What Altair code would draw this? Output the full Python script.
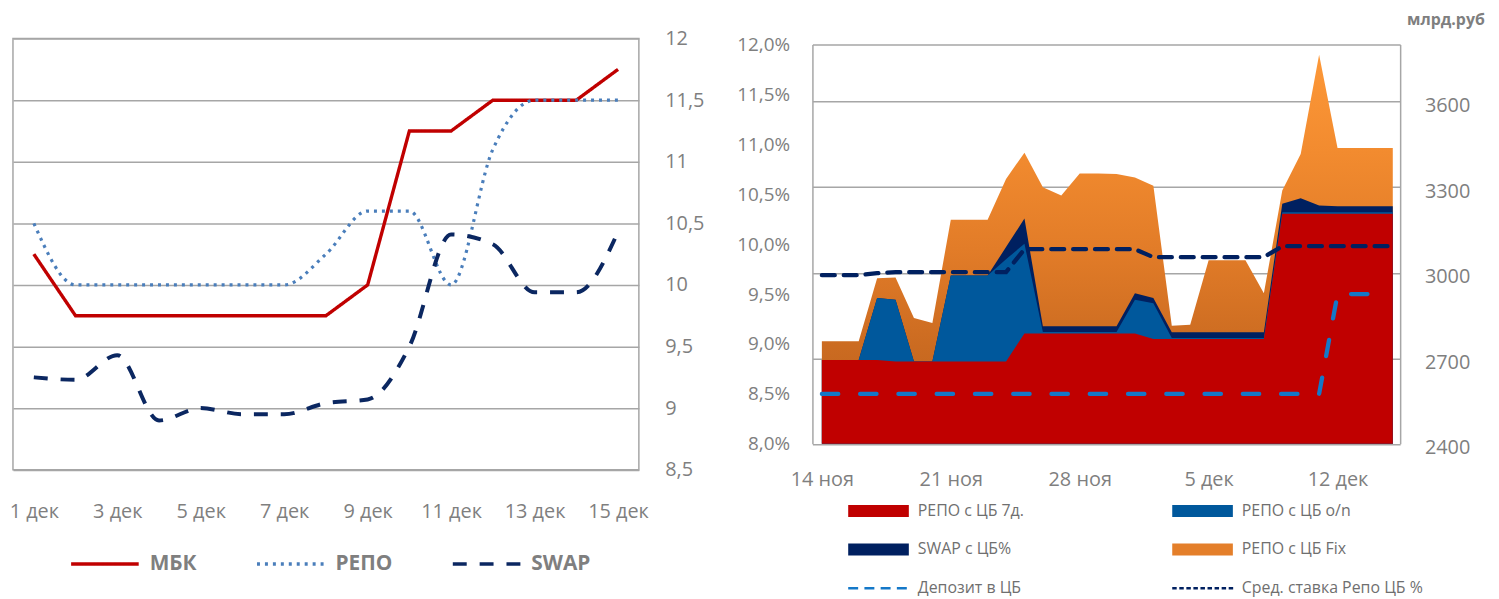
import altair as alt
import pandas as pd

FONT = "Open Sans"
GRID = "#A6A6A6"
TXT = "#7F7F7F"

# ---------------- left panel data ----------------
left_days = ["1 дек", "2 дек", "3 дек", "4 дек", "5 дек", "6 дек", "7 дек", "8 дек",
             "9 дек", "10 дек", "11 дек", "12 дек", "13 дек", "14 дек", "15 дек"]
left_ticks = ["1 дек", "3 дек", "5 дек", "7 дек", "9 дек", "11 дек", "13 дек", "15 дек"]
mbk = [10.25, 9.75, 9.75, 9.75, 9.75, 9.75, 9.75, 9.75, 10.0, 11.25, 11.25, 11.5, 11.5, 11.5, 11.75]
repo = [10.5, 10.0, 10.0, 10.0, 10.0, 10.0, 10.0, 10.25, 10.6, 10.6, 10.0, 11.1, 11.5, 11.5, 11.5]
swap = [9.25, 9.23, 9.43, 8.9, 9.0, 8.95, 8.95, 9.04, 9.07, 9.5, 10.41, 10.33, 9.94, 9.94, 10.43]
left_series = ["МБК", "РЕПО", "SWAP"]
left_colors = ["#C00000", "#4A7EBB", "#0B2761"]
left_dashes = [[1, 0], [3, 5], [14, 13]]
left_yticks = [8.5, 9.0, 9.5, 10.0, 10.5, 11.0, 11.5, 12.0]

# ---------------- right panel data ----------------
dates_right = list(pd.date_range("2014-11-14", "2014-12-15").strftime("%Y-%m-%dT00:00:00"))
repo7 = [2694, 2694, 2694, 2694, 2689, 2689, 2689, 2689, 2689, 2689, 2689,
         2787, 2787, 2787, 2787, 2787, 2787, 2787, 2768, 2768, 2768, 2768, 2768, 2768, 2768,
         3207, 3207, 3207, 3207, 3207, 3207, 3207]
repo_on = [0, 0, 0, 217, 216, 0, 0, 301, 301, 301, 358, 315, 5, 5, 5, 5, 5, 118, 125,
           3, 3, 3, 3, 3, 3, 5, 5, 5, 5, 5, 5, 5]
swap_cb = [0, 0, 0, 0, 0, 0, 0, 0, 0, 0, 43, 88, 20, 20, 20, 20, 20, 23, 18,
           20, 20, 20, 20, 20, 20, 30, 49, 24, 21, 21, 21, 21]
repo_fix = [66, 66, 66, 70, 78, 152, 135, 196, 196, 196, 239, 231, 488, 459, 536, 536, 534,
            406, 394, 23, 27, 253, 253, 253, 137, 46, 155, 528, 204, 204, 204, 204]
deposit = [8.5, 8.5, 8.5, 8.5, 8.5, 8.5, 8.5, 8.5, 8.5, 8.5, 8.5, 8.5, 8.5, 8.5, 8.5, 8.5,
           8.5, 8.5, 8.5, 8.5, 8.5, 8.5, 8.5, 8.5, 8.5, 8.5, 8.5, 8.5, 9.5, 9.5, 9.5]
avg_rate = [9.69, 9.69, 9.69, 9.71, 9.72, 9.72, 9.72, 9.72, 9.72, 9.72, 9.72,
            9.95, 9.95, 9.95, 9.95, 9.95, 9.95, 9.95, 9.87, 9.87, 9.87, 9.87, 9.87, 9.87, 9.87,
            9.98, 9.98, 9.98, 9.98, 9.98, 9.98, 9.98]
right_xticks = ["2014-11-14", "2014-11-21", "2014-11-28", "2014-12-05", "2014-12-12"]
pct_ticks = [8.0, 8.5, 9.0, 9.5, 10.0, 10.5, 11.0, 11.5, 12.0]
bill_ticks = [2400, 2700, 3000, 3300, 3600, 3800]
# legend order: the legend fills column by column (left column first)
items = ["РЕПО с ЦБ 7д.", "SWAP с ЦБ%", "Депозит в ЦБ",
         "РЕПО с ЦБ o/n", "РЕПО с ЦБ Fix", "Сред. ставка Репо ЦБ %"]
item_colors = ["#C00000", "#002060", "#1478C8", "#00589C", "#E47F2A", "#002060"]

# ---------------- geometry / style ----------------
W_L, H_L = 629.7, 433.7
W_R, H_R, TOP_GAP = 591.3, 407.7, 6


def dash_path(starts, length, half):
    return " ".join(
        f"M{s:.3f},{-half}H{s + length:.3f}V{half}H{s:.3f}Z" for s in starts
    )


rect_path = "M-1,-0.197H1V0.197H-1Z"
dep_path = dash_path([-1, -0.465, 0.07, 0.605], 0.328, 0.041)
avg_path = dash_path([-1 + k * 0.2328 for k in range(9)], 0.1475, 0.041)
item_shapes = [rect_path, rect_path, dep_path, rect_path, rect_path, avg_path]

# ---------------- left panel ----------------
rows = []
for name, vals in zip(left_series, [mbk, repo, swap]):
    for d, v in zip(left_days, vals):
        rows.append({"day": d, "series": name, "value": v})
df_left = pd.DataFrame(rows)

x_axis_left = alt.Axis(values=left_ticks, labelAngle=0, ticks=False, tickSize=0, domain=False,
                       grid=False, labelPadding=42, labelBaseline="middle", labelFontSize=20,
                       title=None)
y_axis_left = alt.Axis(orient="right", values=left_yticks, grid=True, gridColor=GRID,
                       gridWidth=1.5, ticks=False, tickSize=0, domain=False, labelPadding=26,
                       labelAlign="left", labelBaseline="middle",
                       labelExpr="replace(format(datum.value, '~g'), '.', ',')",
                       labelFontSize=20, title=None)
left_legend = alt.Legend(title=None, orient="none", legendX=56.5, legendY=492.5,
                         direction="horizontal", columns=3, symbolType="stroke",
                         symbolSize=4624, symbolStrokeWidth=3.5, labelFontSize=21,
                         labelFontWeight="bold", labelColor=TXT, labelOffset=9,
                         columnPadding=53, padding=0)


def left_line(name, interp, width):
    return alt.Chart(df_left).transform_filter(alt.datum.series == name).mark_line(
        interpolate=interp, strokeWidth=width
    ).encode(
        x=alt.X("day:O", scale=alt.Scale(domain=left_days), axis=x_axis_left),
        y=alt.Y("value:Q", scale=alt.Scale(domain=[8.5, 12]), axis=y_axis_left),
        color=alt.Color("series:N", scale=alt.Scale(domain=left_series, range=left_colors),
                        legend=left_legend),
        strokeDash=alt.StrokeDash("series:N",
                                  scale=alt.Scale(domain=left_series, range=left_dashes),
                                  legend=left_legend),
    )


left = alt.layer(
    left_line("МБК", "linear", 3.4),
    left_line("РЕПО", "monotone", 3.2),
    left_line("SWAP", "monotone", 4),
).properties(width=W_L, height=H_L)

# ---------------- right panel ----------------
df_r = pd.DataFrame({"date": dates_right, "red": repo7, "blue": repo_on,
                     "navy": swap_cb, "fix": repo_fix, "avg": avg_rate})
df_r["c_red"] = df_r["red"]
df_r["c_blue"] = df_r["c_red"] + df_r["blue"]
df_r["c_navy"] = df_r["c_blue"] + df_r["navy"]
df_r["c_total"] = df_r["c_navy"] + df_r["fix"]
df_r["base"] = 2400
df_dep = pd.DataFrame({"date": dates_right[:len(deposit)], "dep": deposit})

x_dom = [alt.DateTime(year=2014, month=11, date=13, hours=11, minutes=41),
         alt.DateTime(year=2014, month=12, date=15, hours=9, minutes=36)]
x_vals = [alt.DateTime(year=int(s[:4]), month=int(s[5:7]), date=int(s[8:10])) for s in right_xticks]
x_axis_right = alt.Axis(values=x_vals, ticks=False, tickSize=0, domain=False, grid=False,
                        labelPadding=35.7, labelBaseline="middle", labelFontSize=20,
                        labelAngle=0, title=None,
                        labelExpr="date(datum.value) + ' ' + (month(datum.value) == 10 ? 'ноя' : 'дек')")
x_r = alt.X("date:T", scale=alt.Scale(domain=x_dom), axis=x_axis_right)

bill_scale = alt.Scale(domain=[2400, 3800], range=[H_R, TOP_GAP], nice=False, zero=False)
pct_scale = alt.Scale(domain=[8, 12], range=[H_R, TOP_GAP], nice=False, zero=False)

bill_axis = alt.Axis(orient="right", values=bill_ticks, grid=True, gridColor=GRID,
                     gridWidth=1.5, ticks=False, tickSize=0, domain=True, domainColor=GRID,
                     domainWidth=1.5, labelPadding=24.4, labelOffset=4, labelAlign="left",
                     labelBaseline="middle", labelFontSize=20,
                     labelExpr="datum.value >= 3800 ? '' : format(datum.value, 'd')",
                     title="млрд.руб", titleAngle=0, titleX=84.7, titleY=-19.3,
                     titleAlign="right", titleBaseline="middle", titleFontSize=16,
                     titleFontWeight="bold", titleColor=TXT, titleFont=FONT)
pct_axis = alt.Axis(orient="left", values=pct_ticks, grid=False, ticks=False, tickSize=0,
                    domain=True, domainColor=GRID, domainWidth=1.5, labelPadding=23,
                    labelBaseline="middle", labelFontSize=19, title=None,
                    labelExpr="replace(format(datum.value, '.1f'), '.', ',') + '%'")

orange_grad = alt.Gradient(
    gradient="linear",
    stops=[alt.GradientStop(offset=0, color="#FD9838"),
           alt.GradientStop(offset=0.25, color="#F28B2F"),
           alt.GradientStop(offset=0.5, color="#E27C28"),
           alt.GradientStop(offset=0.75, color="#CB6B21"),
           alt.GradientStop(offset=1, color="#B85E1C")],
    x1=1, x2=1, y1=0, y2=1,
)


def area(field, color):
    return alt.Chart(df_r).mark_area(color=color, interpolate="linear").encode(
        x=x_r,
        y=alt.Y(f"{field}:Q", scale=bill_scale, axis=bill_axis),
        y2=alt.Y2("base:Q"),
    )


areas = alt.layer(
    area("c_total", orange_grad),
    area("c_navy", "#002060"),
    area("c_blue", "#00589C"),
    area("c_red", "#C00000"),
)

dep_line = alt.Chart(df_dep).mark_line(
    color="#1478C8", strokeWidth=4.3, strokeDash=[16.5, 22], strokeCap="round"
).encode(x=x_r, y=alt.Y("dep:Q", scale=pct_scale, axis=pct_axis))

avg_line = alt.Chart(df_r).mark_line(
    color="#002060", strokeWidth=4.3, strokeDash=[13, 9], strokeCap="round"
).encode(x=x_r, y=alt.Y("avg:Q", scale=pct_scale, axis=pct_axis))

right_legend = alt.Legend(title=None, orient="none", legendX=36, legendY=444.5, columns=2,
                          columnPadding=149, rowPadding=-23, symbolSize=3721,
                          symbolStrokeWidth=0, labelFontSize=16, labelColor="#6F6F6F",
                          labelOffset=9, labelLimit=400, padding=0)

carrier = alt.Chart(pd.DataFrame({"item": items})).transform_filter("false").mark_point(
    filled=True, size=3721, opacity=1
).encode(
    color=alt.Color("item:N", scale=alt.Scale(domain=items, range=item_colors),
                    legend=right_legend),
    shape=alt.Shape("item:N", scale=alt.Scale(domain=items, range=item_shapes),
                    legend=right_legend),
)

lines = alt.layer(dep_line, avg_line, carrier)

right = alt.layer(areas, lines).resolve_scale(y="independent").properties(
    width=W_R, height=H_R, view=alt.ViewBackground(stroke="transparent")
)

chart = alt.hconcat(left, right, spacing=174.3, bounds="flush").resolve_scale(
    color="independent", strokeDash="independent", shape="independent",
    x="independent", y="independent"
).properties(
    padding={"left": 0, "top": 0, "right": 5, "bottom": 0}, background="white"
).configure_view(
    stroke=GRID, strokeWidth=1.5
).configure_axis(
    labelFont=FONT, labelColor=TXT, titleFont=FONT
).configure_legend(
    labelFont=FONT
)

chart.save("out.html", embed_options={"renderer": "svg", "actions": False})
